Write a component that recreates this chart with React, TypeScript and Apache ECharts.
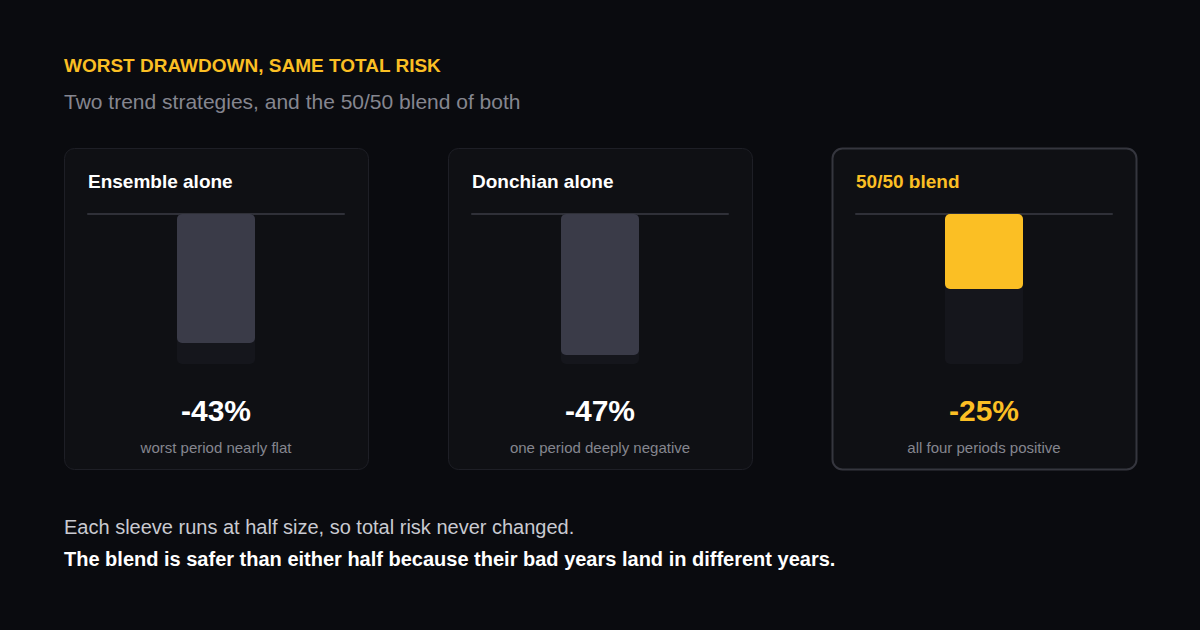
import { useEffect, useRef } from "react";
import * as echarts from "echarts";

const strategies = ["Ensemble alone", "Donchian alone", "50/50 blend"];
const drawdowns = [-43, -47, -25];
const notes = ["worst period nearly flat", "one period deeply negative", "all four periods positive"];
const highlighted = [false, false, true];

const titleText = "WORST DRAWDOWN, SAME TOTAL RISK";
const subtitleText = "Two trend strategies, and the 50/50 blend of both";
const footerLine1 = "Each sleeve runs at half size, so total risk never changed.";
const footerLine2 = "The blend is safer than either half because their bad years land in different years.";

const FONT = '"Liberation Sans", Arial, Helvetica, sans-serif';
const YELLOW = "#fbbf24";

export default function App() {
  const chartRef = useRef<HTMLDivElement>(null);

  useEffect(() => {
    if (!chartRef.current) return;
    const chart = echarts.init(chartRef.current, undefined, { renderer: "svg" });

    const cardLeft = 64;
    const cardTop = 148;
    const cardW = 304;
    const cardH = 321;
    const step = 384;

    const textAt = (text: string, x: number, y: number, fill: string, font: string, align = "left") => ({
      type: "text",
      x,
      y,
      style: { text, fill, font, align, verticalAlign: "middle" },
    });

    const graphics: any[] = [
      textAt(titleText, 64, 65, YELLOW, `bold 19px ${FONT}`),
      textAt(subtitleText, 64, 101, "#85868f", `21px ${FONT}`),
      textAt(footerLine1, 64, 527, "#c9cad1", `20px ${FONT}`),
      textAt(footerLine2, 64, 559, "#ffffff", `bold 20px ${FONT}`),
    ];

    strategies.forEach((name, i) => {
      const x = cardLeft + i * step;
      const hl = highlighted[i];
      graphics.push({
        type: "rect",
        z: -10,
        shape: { x: x + 0.5, y: cardTop + 0.5, width: cardW, height: cardH, r: 10 },
        style: {
          fill: "#0f1014",
          stroke: hl ? "#35363e" : "#1e1f26",
          lineWidth: hl ? 2 : 1,
        },
      });
      graphics.push(textAt(name, x + 24, 181, hl ? YELLOW : "#ffffff", `bold 19px ${FONT}`));
      graphics.push(
        textAt(`${drawdowns[i]}%`, x + cardW / 2, 410, hl ? YELLOW : "#ffffff", `bold 30px ${FONT}`, "center")
      );
      graphics.push(textAt(notes[i], x + cardW / 2, 447, "#85868f", `15px ${FONT}`, "center"));
    });

    const option = {
      animation: false,
      backgroundColor: "#0a0b0f",
      grid: strategies.map((_, i) => ({
        left: 88 + i * step,
        top: 214,
        width: 256,
        height: 150,
      })),
      xAxis: strategies.map((name, i) => ({
        type: "category",
        gridIndex: i,
        data: [name],
        position: "top",
        axisLine: { show: true, onZero: false, lineStyle: { color: "#2f3038", width: 2 } },
        axisTick: { show: false },
        axisLabel: { show: false },
        splitLine: { show: false },
      })),
      yAxis: strategies.map((_, i) => ({
        type: "value",
        gridIndex: i,
        min: -50,
        max: 0,
        show: false,
      })),
      series: strategies.map((name, i) => ({
        name,
        type: "bar",
        xAxisIndex: i,
        yAxisIndex: i,
        data: [drawdowns[i]],
        barWidth: 78,
        z: 3,
        itemStyle: {
          color: highlighted[i] ? YELLOW : "#3a3b48",
          borderRadius: 5,
        },
        showBackground: true,
        backgroundStyle: { color: "#15161c", borderRadius: 5 },
      })),
      graphic: graphics,
    };

    chart.setOption(option as any);

    return () => {
      chart.dispose();
    };
  }, []);

  return (
    <div
      ref={chartRef}
      style={{ position: "fixed", left: 0, top: 0, width: 1200, height: 630 }}
    />
  );
}
